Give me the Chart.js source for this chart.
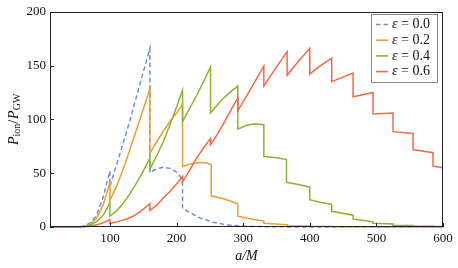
<!DOCTYPE html>
<html>
<head>
<meta charset="utf-8">
<script src="https://cdn.jsdelivr.net/npm/chart.js@4/dist/chart.umd.min.js"></script>
<style>
html,body{margin:0;padding:0;background:#fff;}
canvas{display:block;}
</style>
</head>
<body>
<canvas id="c" width="458" height="268"></canvas>
<script>
// ---- data ----
const seriesLabels = ['ε = 0.0', 'ε = 0.2', 'ε = 0.4', 'ε = 0.6'];
const xTicks = [100, 200, 300, 400, 500, 600];
const yTicks = [0, 50, 100, 150, 200];

const aEps00 = [10,50,60,70,80,90,100, 100,115,130,145,160, 160,170,180,190,200,205,209, 209,220,235,255,275,300,340,400,600];
const pEps00 = [0,0,0.7,3.5,11,28,52, 38,68,99,133,166, 50.5,54,55.5,54.5,51,47.5,40, 17,13.5,8.5,4.5,2,0.8,0.2,0,0];

const aEps02 = [10,50,60,70,80,90,100, 100,110,120,130,145,160, 160,170,180,190,200,209, 209,220,235,245,252, 252,272,292, 292,312,331, 331,366, 366,400, 400,433, 433,465,600];
const pEps02 = [0,0,0.5,2.5,8,21,41, 25,38,54,72,100,128.5, 68.5,79,89,98,106,113.5, 56,58.5,60,59.5,58, 29,26,21.6, 10,7.5,5.5, 3.4,2.2, 1.2,1, 0.6,0.5, 0.3,0.2,0];

const aEps04 = [10,50,60,70,80,90,100, 100,110,120,130,140,150,160, 160,170,180,195,209, 209,230,251, 251,262,272,282,292, 292,305,318,331, 331,348,365, 365,383,400, 400,415,433, 433,465, 465,495, 495,525, 525,555, 555,585, 585,600];
const pEps04 = [0,0,0.3,1.5,5,11,22.5, 10,15,22,31,41,52,64, 54,66,79,103,127, 98,122,148.5, 106,114,120.5,126,131, 91,94.5,96,95, 65.5,64.5,62.7, 41.5,39.5,37, 25.3,23,21, 14.6,11, 7.3,4.9, 3.4,2.8, 1.7,1.4, 0.9,0.7, 0.4,0.35];

const aEps06 = [10,50,60,70,80,90,100, 100,112,125,135,145,152,160, 160,170,180,190,200,209, 209,220,230,240,251, 251,262,272,282,292, 292,312,331, 331,348,366, 366,383,400, 400,415,433, 433,465, 465,495, 495,525, 525,555, 555,585, 585,600];
const pEps06 = [0,0,0.2,0.8,2,4,6.8, 3.4,5,7.5,10,14,17.5,21.6, 15.5,20,27,33,40,47, 42,53,64,73,82.5, 76.5,87,97.7,109,120, 108,129,149.5, 131,147,163, 141,154,166, 142,149.5,157, 135,143, 121,125, 105,106, 88.6,87, 72,69, 56.6,55];

const colors = ['#6b8ed6', '#e8a030', '#8bb42f', '#f36a45'];
const dashes = [[4.5, 3], [], [], []];

function pts(a, p) { return a.map((v, i) => ({x: v, y: p[i]})); }
const allA = [aEps00, aEps02, aEps04, aEps06];
const allP = [pEps00, pEps02, pEps04, pEps06];

const FONT = '"Liberation Serif", "DejaVu Serif", serif';

const decor = {
  id: 'decor',
  afterDatasetsDraw(chart) {
    const {ctx, chartArea: ca, scales: {x, y}} = chart;
    ctx.save();
    ctx.strokeStyle = '#222';
    ctx.lineWidth = 1;
    ctx.beginPath();
    x.ticks.forEach(t => {
      const px = Math.round(x.getPixelForValue(t.value)) + 0.5;
      ctx.moveTo(px, ca.bottom); ctx.lineTo(px, ca.bottom - 4);
    });
    y.ticks.forEach(t => {
      const py = Math.round(y.getPixelForValue(t.value)) + 0.5;
      ctx.moveTo(ca.left, py); ctx.lineTo(ca.left + 4, py);
    });
    ctx.stroke();
    ctx.strokeRect(Math.round(ca.left) + 0.5, Math.round(ca.top) + 0.5,
                   Math.round(ca.right - ca.left) - 1, Math.round(ca.bottom - ca.top) - 1);

    // x title: a/M
    ctx.fillStyle = '#111';
    ctx.textBaseline = 'middle';
    ctx.textAlign = 'center';
    ctx.font = 'italic 14px ' + FONT;
    ctx.fillText('a/M', (ca.left + ca.right) / 2, 256);

    // y title: P_ion / P_GW
    ctx.save();
    ctx.translate(14, (ca.top + ca.bottom) / 2);
    ctx.rotate(-Math.PI / 2);
    const parts = [
      {t: 'P', f: 'italic 14px ' + FONT, dy: 0},
      {t: 'ion', f: '10px ' + FONT, dy: 3},
      {t: '/', f: '14px ' + FONT, dy: 0},
      {t: 'P', f: 'italic 14px ' + FONT, dy: 0},
      {t: 'GW', f: '10px ' + FONT, dy: 3}
    ];
    let w = 0;
    parts.forEach(p => { ctx.font = p.f; p.w = ctx.measureText(p.t).width + (p.t === '/' ? 1 : 0); w += p.w; });
    let cx = -w / 2;
    ctx.textAlign = 'left';
    parts.forEach(p => { ctx.font = p.f; ctx.fillText(p.t, cx, p.dy); cx += p.w; });
    ctx.restore();

    // legend
    const bx = 371.5, by = 14.5, bw = 66, bh = 68;
    ctx.fillStyle = 'rgba(255,255,255,0.9)';
    ctx.fillRect(bx, by, bw, bh);
    ctx.strokeStyle = '#8a8a8a';
    ctx.lineWidth = 1;
    ctx.strokeRect(bx, by, bw, bh);
    chart.data.datasets.forEach((ds, i) => {
      const ry = 24.5 + i * 15.7;
      ctx.strokeStyle = ds.borderColor;
      ctx.lineWidth = 1.6;
      ctx.setLineDash(ds.borderDash || []);
      ctx.beginPath(); ctx.moveTo(376, ry); ctx.lineTo(388, ry); ctx.stroke();
      ctx.setLineDash([]);
      ctx.fillStyle = '#111';
      ctx.textBaseline = 'middle';
      ctx.textAlign = 'left';
      let tx = 392;
      ctx.font = 'italic 14px ' + FONT;
      ctx.fillText(ds.label[0], tx, ry);
      tx += ctx.measureText(ds.label[0]).width;
      ctx.font = '14px ' + FONT;
      ctx.fillText(ds.label.slice(1), tx, ry);
    });
    ctx.restore();
  }
};

new Chart(document.getElementById('c'), {
  type: 'line',
  data: {
    datasets: seriesLabels.map((lab, i) => ({
      label: lab,
      data: pts(allA[i], allP[i]),
      borderColor: colors[i],
      backgroundColor: colors[i],
      borderWidth: 1.5,
      borderDash: dashes[i],
      pointRadius: 0,
      tension: 0,
      fill: false,
      clip: {left: 0, top: 0, right: 0, bottom: 2},
      order: 4 - i
    }))
  },
  options: {
    responsive: false,
    animation: false,
    events: [],
    layout: {padding: {top: 8, right: 15, left: 0, bottom: 0}},
    plugins: {legend: {display: false}, tooltip: {enabled: false}},
    scales: {
      x: {
        type: 'linear', min: 10, max: 600,
        afterFit: s => { s.height = 41; },
        afterBuildTicks: s => { s.ticks = xTicks.map(v => ({value: v})); },
        grid: {display: false, drawTicks: false},
        border: {display: false},
        ticks: {padding: 4, color: '#111', font: {family: FONT, size: 13}, maxRotation: 0}
      },
      y: {
        type: 'linear', min: 0, max: 200,
        afterFit: s => { s.width = 50; },
        afterBuildTicks: s => { s.ticks = yTicks.map(v => ({value: v})); },
        grid: {display: false, drawTicks: false},
        border: {display: false},
        ticks: {padding: 4, color: '#111', font: {family: FONT, size: 13}}
      }
    }
  },
  plugins: [decor]
});
</script>
</body>
</html>
